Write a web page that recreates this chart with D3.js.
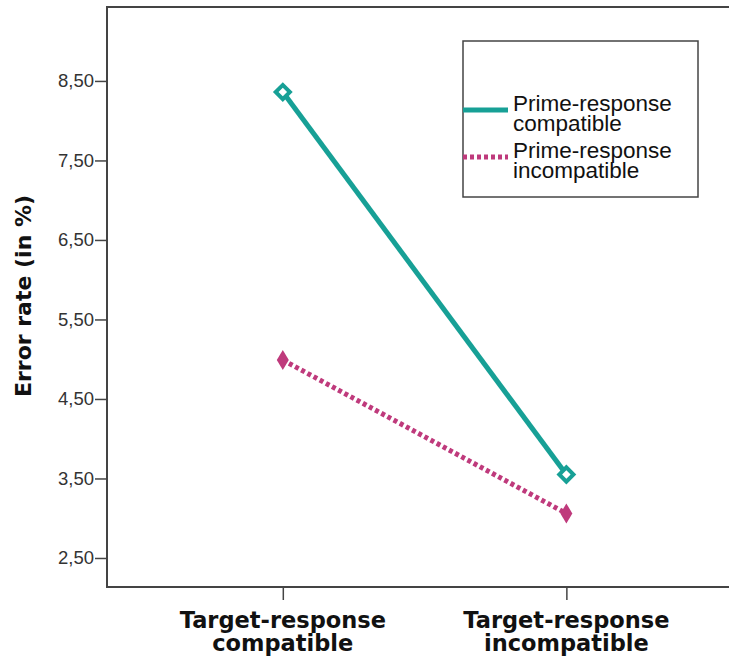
<!DOCTYPE html>
<html><head><meta charset="utf-8">
<script src="https://cdn.jsdelivr.net/npm/d3@7"></script>
<style>body{margin:0;background:#fff}svg{display:block;font-family:"Liberation Sans",Arial,sans-serif}</style>
</head><body>
<svg id="c" width="729" height="659"></svg>
<script>
const categories = [["Target-response","compatible"],["Target-response","incompatible"]];
const seriesNames = [["Prime-response","compatible"],["Prime-response","incompatible"]];
const primeCompatible = [8.36, 3.55];
const primeIncompatible = [4.99, 3.06];
const yTicks = [2.5,3.5,4.5,5.5,6.5,7.5,8.5];

const svg = d3.select("#c");
const L=107, R=728, T=7, B=587;
const x = d3.scaleLinear().domain([-0.62,1.57]).range([L,R]);
const y = d3.scaleLinear().domain([2.135,9.43]).range([B,T]);
const fmt = d => d.toFixed(2).replace(".",",");

// frame
svg.append("rect").attr("x",L).attr("y",T).attr("width",R-L+4).attr("height",B-T)
  .attr("fill","none").attr("stroke","#444").attr("stroke-width",2);

// y axis
const ya = svg.append("g").attr("transform",`translate(${L},0)`)
  .call(d3.axisLeft(y).tickValues(yTicks).tickFormat(fmt).tickSize(12).tickPadding(1).tickSizeOuter(0));
ya.select(".domain").remove();
ya.selectAll("line").attr("stroke","#444").attr("stroke-width",1.5);
ya.selectAll("text").attr("font-size",18.5).attr("fill","#333")
  .attr("font-family","Liberation Sans, Arial, sans-serif");

// x axis
const xa = svg.append("g").attr("transform",`translate(0,${B})`)
  .call(d3.axisBottom(x).tickValues([0,1]).tickFormat("").tickSize(13).tickSizeOuter(0));
xa.select(".domain").remove();
xa.selectAll("line").attr("stroke","#444").attr("stroke-width",1.5);
categories.forEach((c,i)=>{
  const t = svg.append("text").attr("x",x(i)).attr("text-anchor","middle")
    .attr("font-family","DejaVu Sans, sans-serif")
    .attr("font-size",22.5).attr("font-weight","bold").attr("fill","#111");
  t.append("tspan").attr("x",x(i)).attr("y",628).text(c[0]);
  t.append("tspan").attr("x",x(i)).attr("y",651).text(c[1]);
});

// y title
svg.append("text").attr("transform","translate(31,296) rotate(-90)").attr("text-anchor","middle")
  .attr("font-family","DejaVu Sans, sans-serif")
  .attr("font-size",22).attr("font-weight","bold").attr("fill","#111")
  .text("Error rate (in %)");

const green="#17a096", pink="#bf3a7c";
const line = d3.line().x((d,i)=>x(i)).y(d=>y(d));
svg.append("path").attr("d",line(primeIncompatible)).attr("fill","none").attr("stroke",pink)
  .attr("stroke-width",5).attr("stroke-dasharray","4,3");
svg.append("path").attr("d",line(primeCompatible)).attr("fill","none").attr("stroke",green)
  .attr("stroke-width",5);

// markers
primeCompatible.forEach((v,i)=>{
  svg.append("path").attr("transform",`translate(${x(i)},${y(v)}) rotate(45)`)
    .attr("d","M-5,-5H5V5H-5Z").attr("fill","#fff").attr("stroke",green).attr("stroke-width",4);
});
primeIncompatible.forEach((v,i)=>{
  svg.append("path").attr("transform",`translate(${x(i)},${y(v)})`)
    .attr("d","M0,-10L6,0L0,10L-6,0Z").attr("fill",pink);
});

// legend
const lg = svg.append("g");
lg.append("rect").attr("x",463).attr("y",41).attr("width",235).attr("height",156)
  .attr("fill","#fff").attr("stroke","#444").attr("stroke-width",1.5);
const items=[{c:green,d:null,n:seriesNames[0],ly:110},{c:pink,d:"4,3",n:seriesNames[1],ly:157}];
items.forEach(it=>{
  lg.append("line").attr("x1",463).attr("x2",508).attr("y1",it.ly).attr("y2",it.ly)
    .attr("stroke",it.c).attr("stroke-width",5).attr("stroke-dasharray",it.d);
  const t=lg.append("text").attr("font-size",22.5).attr("fill","#111");
  t.append("tspan").attr("x",513).attr("y",it.ly+1).text(it.n[0]);
  t.append("tspan").attr("x",513).attr("y",it.ly+21).text(it.n[1]);
});
</script>
</body></html>
